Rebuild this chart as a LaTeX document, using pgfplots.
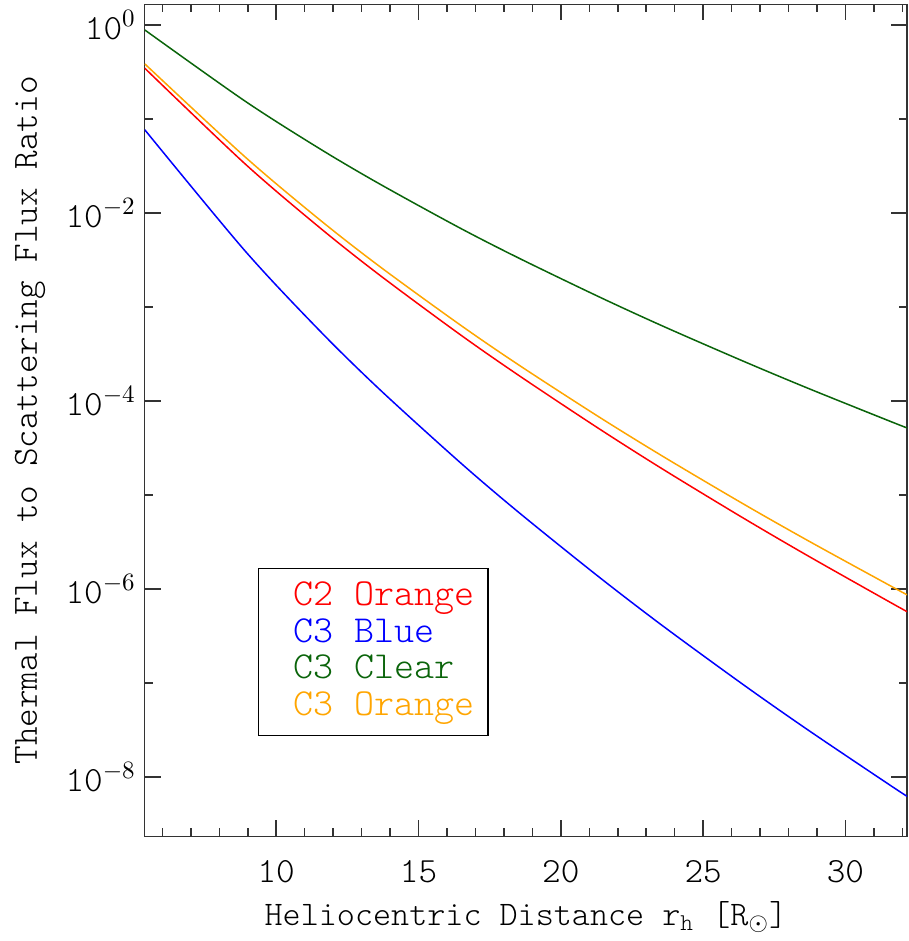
\documentclass[border=0pt]{standalone}
\usepackage{fontspec}
\setmonofont{Latin Modern Mono Light}
\usepackage{pgfplots}
\pgfplotsset{compat=1.18}
\definecolor{idlgreen}{RGB}{10,100,10}
\definecolor{idlorange}{RGB}{255,165,0}
\begin{document}
\begin{tikzpicture}
\begin{axis}[name=ax, scale only axis, width=305.6pt, height=333.4pt,
  xmin=5.38, xmax=32.17, ymode=log, ymin=2.32e-9, ymax=1.65,
  /pgf/number format/assume math mode=true,
  xtick={10,15,20,25,30}, minor xtick={6,7,8,9,11,12,13,14,16,17,18,19,21,22,23,24,26,27,28,29,31,32},
  ytick={1e-8,1e-6,1e-4,1e-2,1},
  yticklabels={10$^{-8}$,10$^{-6}$,10$^{-4}$,10$^{-2}$,10$^{0}$},
  minor ytick={1e-7,1e-5,1e-3,1e-1},
  tick align=inside, major tick length=6.4pt, minor tick length=3.2pt,
  axis line style={black!80, line width=0.6pt},
  every tick/.style={black!80, line width=0.6pt},
  tick label style={font=\fontsize{14.2}{16}\selectfont\ttfamily},
  xticklabel style={yshift=-6pt},
  label style={font=\fontsize{13.8}{16}\selectfont\ttfamily},
  xlabel={Heliocentric Distance r$_{\mathtt{h}}$ [R$_\odot$]},
  xlabel style={at={(axis description cs:0.5,-0.1068)}, anchor=base},
  ylabel={Thermal Flux to Scattering Flux Ratio},
  ylabel style={at={(axis description cs:-0.1414,0.5)}, anchor=base, rotate=0, font=\fontsize{14.2}{16}\selectfont\ttfamily},
]
\addplot[red, line width=0.6pt, smooth, tension=0.5] coordinates {
(5.38,0.3467)(8.886,0.03365)(11.516,7.015e-3)(13.62,2.193e-3)(16.425,5.164e-4)(18.529,1.858e-4)(21.334,5.07e-5)(23.613,1.849e-5)(26.418,5.64e-6)(28.697,2.228e-6)(31.502,7.38e-7)(32.17,5.70e-7)};
\addplot[blue, line width=0.6pt, smooth, tension=0.5] coordinates {
(5.38,0.07674)(8.886,4.0e-3)(11.516,5.62e-4)(13.62,1.334e-4)(16.425,2.259e-5)(18.529,6.47e-6)(21.334,1.340e-6)(23.613,3.963e-7)(26.418,9.51e-8)(28.697,3.126e-8)(31.502,8.38e-9)(32.17,6.17e-9)};
\addplot[idlgreen, line width=0.6pt, smooth, tension=0.5] coordinates {
(5.38,0.885)(8.886,0.1560)(11.516,0.04842)(13.62,0.02042)(16.425,6.98e-3)(18.529,3.296e-3)(21.334,1.282e-3)(23.613,6.18e-4)(26.418,2.636e-4)(28.697,1.355e-4)(31.502,6.17e-5)(32.17,5.14e-5)};
\addplot[idlorange, line width=0.6pt, smooth, tension=0.5] coordinates {
(5.38,0.3855)(8.886,0.03990)(11.516,8.51e-3)(13.62,2.710e-3)(16.425,6.55e-4)(18.529,2.399e-4)(21.334,6.76e-5)(23.613,2.535e-5)(26.418,7.98e-6)(28.697,3.236e-6)(31.502,1.107e-6)(32.17,8.61e-7)};
\draw[black, line width=0.5pt] (axis description cs:0.1496,0.3224) rectangle (axis description cs:0.4503,0.1215);
\begin{scope}[every node/.style={anchor=base west, inner sep=0pt, font=\fontsize{15.3}{16}\selectfont\ttfamily}]
\node[text=red] at (axis description cs:0.195,0.2775) {C2 Orange};
\node[text=blue] at (axis description cs:0.195,0.2334) {C3 Blue};
\node[text=idlgreen] at (axis description cs:0.195,0.1892) {C3 Clear};
\node[text=idlorange] at (axis description cs:0.195,0.1452) {C3 Orange};
\end{scope}
\end{axis}
\path ([shift={(-58pt,-41.2pt)}]ax.south west) rectangle ([shift={(0.4pt,1.8pt)}]ax.north east);
\end{tikzpicture}
\end{document}
